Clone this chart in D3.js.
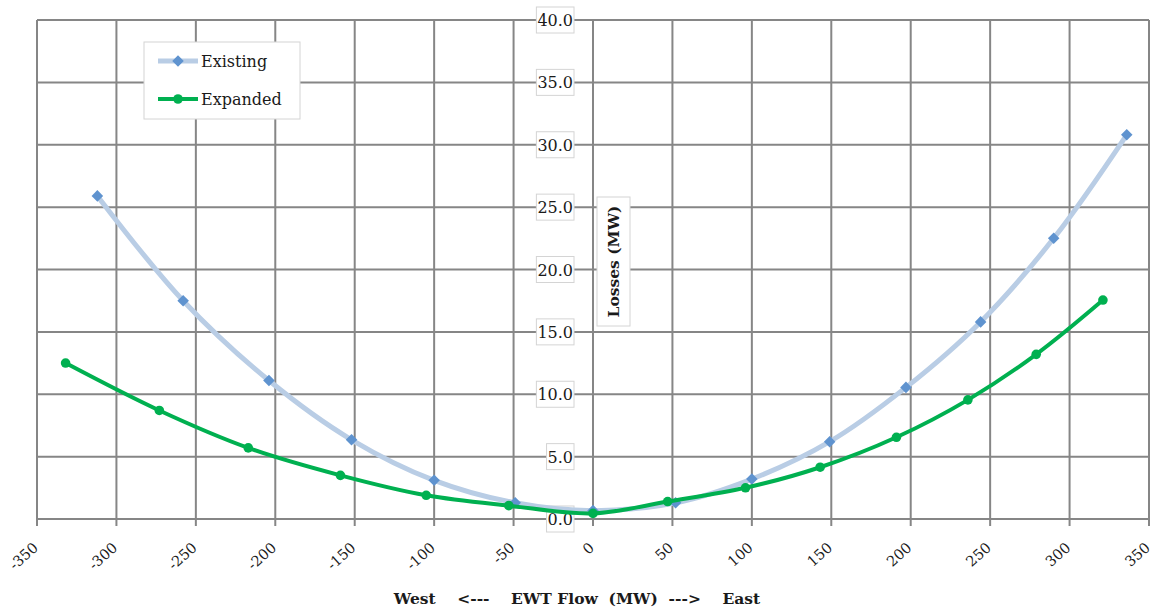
<!DOCTYPE html>
<html>
<head>
<meta charset="utf-8">
<script src="https://cdn.jsdelivr.net/npm/d3@7"></script>
<style>
	body { margin: 0; background: #fff; }
	svg { display: block; }
	text { font-family: 'DejaVu Serif', serif; fill: #1a1a1a; }
</style>
</head>
<body>
<svg id="chart" width="1153" height="608"></svg>
<script>
// values
const existingFlow = [-312, -258, -204, -152, -100, -49, 0, 52, 100, 149, 197, 244, 290, 336]
const existingLoss = [25.9, 17.5, 11.1, 6.35, 3.1, 1.3, 0.67, 1.3, 3.2, 6.2, 10.55, 15.8, 22.5, 30.8]
const expandedFlow = [-332, -273, -217, -159, -105, -53, 0, 47, 96, 143, 191, 236, 279, 321]
const expandedLoss = [12.5, 8.7, 5.7, 3.5, 1.9, 1.07, 0.45, 1.4, 2.5, 4.15, 6.55, 9.55, 13.2, 17.55]
const xTicks = [-350, -300, -250, -200, -150, -100, -50, 0, 50, 100, 150, 200, 250, 300, 350]
const yTicks = [0, 5, 10, 15, 20, 25, 30, 35, 40]
const seriesNames = ['Existing', 'Expanded']

const svg = d3.select('#chart')
const grid = '#868686'

const x = d3.scaleLinear().domain([-350, 350]).range([37, 1149])
const y = d3.scaleLinear().domain([0, 40]).range([519, 20])

// grid
const g = svg.append('g').attr('class', 'grid')
g.selectAll('line.v')
	.data(xTicks)
	.enter()
	.append('line')
	.attr('x1', d => x(d))
	.attr('x2', d => x(d))
	.attr('y1', y(40))
	.attr('y2', y(0) + 7)
	.attr('stroke', grid)
	.attr('stroke-width', 2)
g.selectAll('line.h')
	.data(yTicks)
	.enter()
	.append('line')
	.attr('x1', x(-350))
	.attr('x2', x(350))
	.attr('y1', d => y(d))
	.attr('y2', d => y(d))
	.attr('stroke', grid)
	.attr('stroke-width', 2)

// x tick labels, rotated
svg.append('g')
	.selectAll('text')
	.data(xTicks)
	.enter()
	.append('text')
	.attr('transform', d => `translate(${x(d) + 2},549) rotate(-42)`)
	.attr('text-anchor', 'end')
	.attr('font-size', 14.5)
	.text(d => d)

// y tick labels in little boxes, next to the zero line
const yl = svg.append('g')
	.selectAll('g')
	.data(yTicks)
	.enter()
	.append('g')
yl.append('rect').attr('class', 'box')
yl.append('text')
	.attr('x', 573)
	.attr('y', d => y(d) + 6)
	.attr('text-anchor', 'end')
	.attr('font-size', 16)
	.text(d => d.toFixed(1))
yl.each(function(d) {
	const b = d3.select(this).select('text').node().getBBox()
	d3.select(this).select('rect')
		.attr('x', b.x - 1)
		.attr('y', y(d) - 13)
		.attr('width', b.width + 2)
		.attr('height', 26)
		.attr('fill', '#fff')
		.attr('stroke', '#d4d4d4')
})

// y axis title
svg.append('rect')
	.attr('x', 597).attr('y', 197)
	.attr('width', 33).attr('height', 129)
	.attr('fill', '#fff').attr('stroke', '#d4d4d4')
svg.append('text')
	.attr('transform', 'translate(619,261.5) rotate(-90)')
	.attr('text-anchor', 'middle')
	.attr('font-size', 15.5)
	.attr('font-weight', 'bold')
	.text('Losses (MW)')

// x axis title
svg.append('text')
	.attr('x', 577)
	.attr('y', 604)
	.attr('text-anchor', 'middle')
	.attr('font-size', 15.5)
	.attr('font-weight', 'bold')
	.style('white-space', 'pre')
	.text('West    <---    EWT Flow  (MW)  --->    East')

// series
const line = d3.line()
	.x(d => x(d[0]))
	.y(d => y(d[1]))
	.curve(d3.curveCatmullRom.alpha(0.5))

const existing = existingFlow.map((f, i) => [f, existingLoss[i]])
const expanded = expandedFlow.map((f, i) => [f, expandedLoss[i]])
const diamond = d3.symbol().type(d3.symbolDiamond2).size(85)

svg.append('path')
	.datum(existing)
	.attr('d', line)
	.attr('fill', 'none')
	.attr('stroke', '#b9cde5')
	.attr('stroke-width', 5)
svg.append('g')
	.selectAll('path')
	.data(existing)
	.enter()
	.append('path')
	.attr('transform', d => `translate(${x(d[0])},${y(d[1])})`)
	.attr('d', diamond)
	.attr('fill', '#5f93cf')

svg.append('path')
	.datum(expanded)
	.attr('d', line)
	.attr('fill', 'none')
	.attr('stroke', '#00b050')
	.attr('stroke-width', 4)
svg.append('g')
	.selectAll('circle')
	.data(expanded)
	.enter()
	.append('circle')
	.attr('cx', d => x(d[0]))
	.attr('cy', d => y(d[1]))
	.attr('r', 4.8)
	.attr('fill', '#00b050')

// legend
const legend = svg.append('g')
legend.append('rect')
	.attr('x', 144).attr('y', 42)
	.attr('width', 156).attr('height', 77)
	.attr('fill', '#fff').attr('stroke', '#d4d4d4')
const item = legend.selectAll('g')
	.data(seriesNames)
	.enter()
	.append('g')
	.attr('transform', (d, i) => `translate(0,${61 + i * 38})`)
item.append('line')
	.attr('x1', 158).attr('x2', 198)
	.attr('stroke', (d, i) => i ? '#00b050' : '#b9cde5')
	.attr('stroke-width', (d, i) => i ? 4 : 5)
item.filter((d, i) => i === 0)
	.append('path')
	.attr('transform', 'translate(178,0)')
	.attr('d', diamond)
	.attr('fill', '#5f93cf')
item.filter((d, i) => i === 1)
	.append('circle')
	.attr('cx', 178)
	.attr('r', 4.8)
	.attr('fill', '#00b050')
item.append('text')
	.attr('x', 201)
	.attr('y', 6)
	.attr('font-size', 16)
	.text(d => d)
</script>
</body>
</html>
